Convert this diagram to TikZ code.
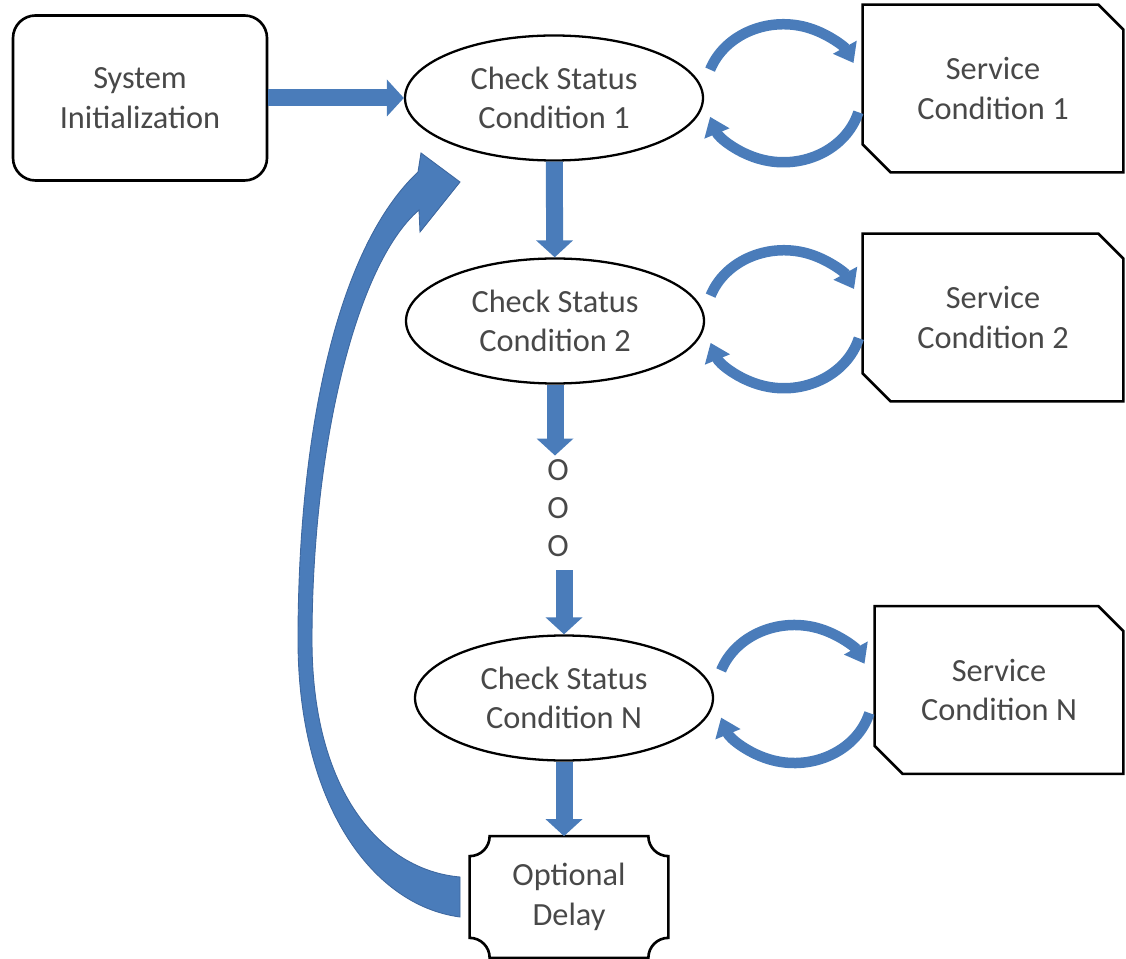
\documentclass[tikz,border=0pt]{standalone}
\usepackage{fontspec}
\setmainfont{Carlito}
\usetikzlibrary{arrows.meta,calc,shapes.geometric}
\definecolor{arrowblue}{RGB}{74,124,186}
\definecolor{arrowedge}{RGB}{62,104,160}
\definecolor{labelgray}{RGB}{72,72,72}
\begin{document}
\begin{tikzpicture}[font=\fontsize{18.4}{22.5}\selectfont,
    check/.style={ellipse, draw, line width=1.3pt, minimum width=5.96cm, minimum height=2.5cm, align=center, text=labelgray},
    service/.style={minimum width=5.2cm, minimum height=3.34cm, align=center, text=labelgray},
    flow/.style={arrowblue, line width=0.34cm, -{Triangle[width=0.72cm,length=0.34cm]}},
    turn/.style={arrowblue, line width=0.21cm, -{Triangle[width=0.52cm,length=0.36cm]}}]
            \useasboundingbox (0,0) rectangle (22.52,-19.18);

            \node [rectangle, rounded corners=0.45cm, draw, line width=1.5pt, minimum width=5.08cm, minimum height=3.3cm, align=center, text=labelgray] (init) at (2.8,-1.96) {System\\Initialization};

            \node [check] (c1) at (11.08,-1.96) {Check Status\\Condition 1};
            \node [check] (c2) at (11.1,-6.42) {Check Status\\Condition 2};
            \node [check] (cN) at (11.28,-13.96) {Check Status\\Condition N};

            \node [service] (s1) at (19.86,-1.77) {Service\\Condition 1};
            \node [service] (s2) at (19.86,-6.35) {Service\\Condition 2};
            \node [service, minimum width=4.96cm] (sN) at (19.98,-13.8) {Service\\Condition N};

            \node [minimum width=3.96cm, minimum height=2.42cm, align=center, text=labelgray] (delay) at (11.38,-17.94) {Optional\\Delay};

            \node [inner sep=2pt, text=labelgray] (o1) at (11.16,-9.4) {O};
            \node [inner sep=2pt, text=labelgray] (o2) at (11.16,-10.16) {O};
            \node [inner sep=2pt, text=labelgray] (o3) at (11.16,-10.92) {O};

            % snipped boxes
            \draw [line width=1.5pt] (s1.north west) -- ([xshift=-0.5cm]s1.north east) -- ([yshift=-0.5cm]s1.north east) -- (s1.south east) -- ([xshift=0.56cm]s1.south west) -- ([yshift=0.56cm]s1.south west) -- cycle;
            \draw [line width=1.5pt] (s2.north west) -- ([xshift=-0.5cm]s2.north east) -- ([yshift=-0.5cm]s2.north east) -- (s2.south east) -- ([xshift=0.56cm]s2.south west) -- ([yshift=0.56cm]s2.south west) -- cycle;
            \draw [line width=1.5pt] (sN.north west) -- ([xshift=-0.5cm]sN.north east) -- ([yshift=-0.5cm]sN.north east) -- (sN.south east) -- ([xshift=0.56cm]sN.south west) -- ([yshift=0.56cm]sN.south west) -- cycle;

            % plaque
            \draw [line width=1.5pt] ([xshift=0.4cm]delay.north west) -- ([xshift=-0.4cm]delay.north east) arc[start angle=180,end angle=270,radius=0.4cm]
                -- ([yshift=0.4cm]delay.south east) arc[start angle=90,end angle=180,radius=0.4cm]
                -- ([xshift=0.4cm]delay.south west) arc[start angle=0,end angle=90,radius=0.4cm]
                -- ([yshift=-0.4cm]delay.north west) arc[start angle=270,end angle=360,radius=0.4cm] -- cycle;

            \draw [flow] (init) -- (c1);
            \draw [flow] (c1) -- (c2);
            \draw [flow] (c2) -- (c2 |- o1.north);
            \draw [flow] ([yshift=-0.2cm]o3.south -| cN.north) -- (cN);
            \draw [flow] (cN) -- (cN |- delay.north);

            \coordinate (m1) at ($(c1.east)!0.5!(s1.west)$);
            \coordinate (m2) at ($(c2.east)!0.5!(s2.west)$);
            \coordinate (mN) at ($(cN.east)!0.5!(sN.west)$);

            \draw [turn] (m1) ++(160:1.56cm and 1.38cm) arc[start angle=160,end angle=26,x radius=1.56cm,y radius=1.38cm];
            \draw [turn] (m1) ++(-16:1.56cm and 1.38cm) arc[start angle=-16,end angle=-160,x radius=1.56cm,y radius=1.38cm];
            \draw [turn] (m2) ++(160:1.56cm and 1.38cm) arc[start angle=160,end angle=26,x radius=1.56cm,y radius=1.38cm];
            \draw [turn] (m2) ++(-16:1.56cm and 1.38cm) arc[start angle=-16,end angle=-160,x radius=1.56cm,y radius=1.38cm];
            \draw [turn] (mN) ++(160:1.56cm and 1.38cm) arc[start angle=160,end angle=26,x radius=1.56cm,y radius=1.38cm];
            \draw [turn] (mN) ++(-16:1.56cm and 1.38cm) arc[start angle=-16,end angle=-160,x radius=1.56cm,y radius=1.38cm];

            % loop back from the delay
            \filldraw [fill=arrowblue, draw=arrowedge, line width=0.5pt]
                (9.2,-18.34) .. controls (7.4,-18.1) and (5.96,-16.0) .. (5.96,-12.8)
                .. controls (5.96,-8.8) and (6.7,-5.0) .. (8.36,-3.44)
                -- (8.42,-3.06) -- (9.2,-3.64) -- (8.4,-4.64) -- (8.38,-4.2)
                .. controls (7.1,-5.3) and (6.24,-9.0) .. (6.24,-12.8)
                .. controls (6.24,-15.8) and (7.6,-17.4) .. (9.2,-17.54) -- cycle;

        \end{tikzpicture}
\end{document}
